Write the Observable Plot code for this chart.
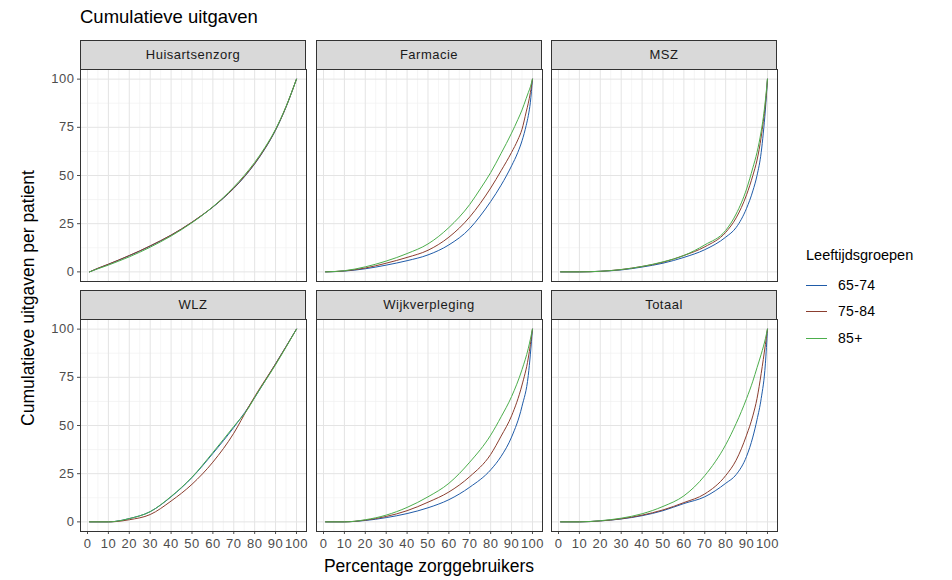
<!DOCTYPE html>
<html><head><meta charset="utf-8">
<script src="https://cdn.jsdelivr.net/npm/d3@7"></script>
<script src="https://cdn.jsdelivr.net/npm/@observablehq/plot@0.6"></script>
<style>
body{margin:0;background:#fff;font-family:"Liberation Sans",Arial,sans-serif;}
#chart{position:relative;width:952px;height:580px;overflow:hidden;}
.abs{position:absolute;}
.strip{position:absolute;background:#d9d9d9;border:1px solid #333;box-sizing:border-box;text-align:center;font-size:13px;letter-spacing:0.5px;color:#1a1a1a;line-height:27px;}
svg text{letter-spacing:0.5px;}
</style></head>
<body><div id="chart"></div>
<script>
// ---- data ----
const groups = ["65-74", "75-84", "85+"];
const colors = ["#1f5ba8", "#8b3e2f", "#4cae4c"];
const panels = ["Huisartsenzorg", "Farmacie", "MSZ", "WLZ", "Wijkverpleging", "Totaal"];
const xTicks = [0, 10, 20, 30, 40, 50, 60, 70, 80, 90, 100];
const xMinor = [5, 15, 25, 35, 45, 55, 65, 75, 85, 95];
const yTicks = [0, 25, 50, 75, 100];
const yMinor = [12.5, 37.5, 62.5, 87.5];

const huisX    = [1, 5, 10, 15, 20, 25, 30, 35, 40, 45, 50, 55, 60, 65, 70, 75, 80, 85, 90, 95, 100];
const huis6574 = [0, 1.8, 3.9, 6.1, 8.4, 10.8, 13.4, 16.1, 19, 22.2, 25.7, 29.5, 33.6, 38.2, 43.3, 49.2, 56, 64, 73.5, 85.5, 100];
const huis7584 = [0, 1.9, 4, 6.2, 8.5, 10.9, 13.5, 16.2, 19.1, 22.3, 25.8, 29.6, 33.7, 38.3, 43.5, 49.4, 56.2, 64.2, 73.7, 85.6, 100];
const huis85   = [0, 1.6, 3.5, 5.6, 7.8, 10.2, 12.8, 15.6, 18.6, 21.9, 25.5, 29.4, 33.8, 38.6, 44, 50, 56.8, 64.7, 74, 85.8, 100];

const farmX    = [1, 10, 20, 30, 40, 50, 60, 70, 75, 80, 85, 90, 93, 95, 97, 98, 99, 100];
const farm6574 = [0, 0.4, 1.6, 3.5, 5.8, 8.8, 14, 22.5, 29, 36.5, 45, 55, 62, 68, 76, 81, 88, 100];
const farm7584 = [0, 0.5, 2, 4.5, 7.5, 11.2, 18, 28.5, 35.5, 43.5, 52.5, 62, 68.5, 74, 83, 87.5, 93, 100];
const farm85   = [0, 0.6, 2.6, 5.6, 9.5, 14.5, 23, 35, 43, 51.5, 61.5, 72, 79, 84, 90, 93, 96, 100];

const mszX     = [1, 10, 20, 30, 40, 50, 60, 70, 80, 85, 90, 93, 95, 97, 98, 99, 100];
const msz6574  = [0, 0, 0.3, 1, 2.5, 4.5, 7.5, 11.5, 18, 23, 33, 42, 50, 62, 72, 84, 100];
const msz7584  = [0, 0, 0.3, 1.2, 2.8, 5, 8.5, 13, 20.5, 28, 40, 50, 58, 70, 78, 87, 100];
const msz85    = [0, 0, 0.3, 1.2, 2.8, 5.2, 8.5, 14, 21.5, 30, 43, 54, 62, 73, 80, 89, 100];

const wlzX     = [1, 10, 13, 20, 30, 40, 50, 60, 70, 77, 80, 90, 100];
const wlz6574  = [0, 0, 0.2, 1.7, 5.3, 13, 23, 35.5, 49, 59.5, 64.5, 82, 100];
const wlz7584  = [0, 0, 0.1, 1.1, 3.8, 10.8, 19.5, 31, 46, 59.5, 65, 82, 100];
const wlz85    = [0, 0, 0.2, 1.7, 5.3, 13.2, 23.2, 36, 49.5, 59, 64.5, 81.5, 100];

const wijkX    = [1, 10, 20, 30, 40, 50, 60, 70, 80, 85, 90, 95, 98, 100];
const wijk6574 = [0, 0, 0.7, 2.2, 4.3, 7.3, 11.5, 18, 27, 34, 44, 60, 76, 100];
const wijk7584 = [0, 0, 0.9, 2.8, 5.8, 10.2, 15.5, 23.5, 35, 44.5, 55, 71, 85, 100];
const wijk85   = [0, 0, 1.1, 3.5, 7.5, 13, 20, 31, 45, 54.5, 65, 79, 90, 100];

const totX     = [1, 10, 20, 30, 40, 50, 60, 70, 80, 85, 90, 93, 95, 97, 99, 100];
const tot6574  = [0, 0, 0.5, 1.5, 3.2, 5.8, 9.5, 13, 20, 24.5, 34, 44, 53, 64, 82, 100];
const tot7584  = [0, 0, 0.5, 1.6, 3.5, 6.2, 10, 14.5, 24, 32, 45, 55, 64, 77, 92, 100];
const tot85    = [0, 0, 0.6, 1.9, 4.2, 8, 13.5, 24, 40, 51, 64, 73, 80, 87, 95, 100];

const panelX = [huisX, farmX, mszX, wlzX, wijkX, totX];
const panelY = [
  [huis6574, huis7584, huis85],
  [farm6574, farm7584, farm85],
  [msz6574, msz7584, msz85],
  [wlz6574, wlz7584, wlz85],
  [wijk6574, wijk7584, wijk85],
  [tot6574, tot7584, tot85]
];

// ---- layout ----
const chart = document.getElementById("chart");
const colLeft = [80, 316, 551];
const stripTop = [40, 290];
const PW = 226, PH = 212, SH = 29;
const font = "'Liberation Sans', Arial, sans-serif";

function add(html, css) {
  const d = document.createElement("div");
  d.className = "abs";
  d.innerHTML = html;
  Object.assign(d.style, css);
  chart.appendChild(d);
  return d;
}

add("Cumulatieve uitgaven", {left: "80px", top: "6px", fontSize: "18.5px", color: "#000"});

panels.forEach((name, i) => {
  const r = Math.floor(i / 3), c = i % 3;
  const data = [];
  groups.forEach((g, gi) => {
    panelX[i].forEach((x, k) => data.push({x, y: panelY[i][gi][k], group: g}));
  });
  const ml = c === 0 ? 50 : 0;
  const mb = r === 1 ? 30 : 0;
  const svg = Plot.plot({
    width: PW + ml, height: PH + mb,
    marginLeft: ml, marginRight: 0, marginTop: 0, marginBottom: mb,
    style: {background: "transparent", overflow: "visible", fontFamily: font, fontSize: "13px", color: "#4d4d4d"},
    x: {domain: [-3.35, 104.8], ticks: xTicks, tickSize: 3, tickPadding: 4, label: null, axis: r === 1 ? "bottom" : null},
    y: {domain: [-5, 105], ticks: yTicks, tickSize: 3, tickPadding: 3, label: null, axis: c === 0 ? "left" : null},
    color: {domain: groups, range: colors},
    marks: [
      Plot.ruleX(xMinor, {stroke: "#f0f0f0", strokeWidth: 0.7}),
      Plot.ruleY(yMinor, {stroke: "#f0f0f0", strokeWidth: 0.7}),
      Plot.ruleX(xTicks, {stroke: "#e4e4e4", strokeWidth: 1}),
      Plot.ruleY(yTicks, {stroke: "#e4e4e4", strokeWidth: 1}),
      Plot.line(data, {x: "x", y: "y", z: "group", stroke: "group", strokeWidth: 1, curve: "monotone-x"}),
      Plot.frame({stroke: "#333", strokeWidth: 1})
    ]
  });
  svg.style.position = "absolute";
  svg.style.left = (colLeft[c] - ml) + "px";
  svg.style.top = (stripTop[r] + SH) + "px";
  chart.appendChild(svg);
  const s = document.createElement("div");
  s.className = "strip";
  s.textContent = name;
  Object.assign(s.style, {left: colLeft[c] + "px", top: stripTop[r] + "px", width: PW + "px", height: (SH + 1) + "px"});
  chart.appendChild(s);
});

// axis titles
add("Percentage zorggebruikers", {left: "229px", width: "400px", top: "556px", textAlign: "center", fontSize: "17.5px", color: "#000", whiteSpace: "nowrap"});
add("Cumulatieve uitgaven per patient", {left: "28px", top: "298px", fontSize: "17.5px", color: "#000", whiteSpace: "nowrap", transform: "translate(-50%,-50%) rotate(-90deg)"});

// legend
add("Leeftijdsgroepen", {left: "806px", top: "247px", fontSize: "14.5px", color: "#000"});
groups.forEach((g, gi) => {
  const y = 285 + gi * 26.5;
  add("", {left: "806px", top: (y - 0.5) + "px", width: "21px", height: "1px", background: colors[gi]});
  add(g, {left: "838px", top: (y - 8.5) + "px", fontSize: "14px", letterSpacing: "0.3px", color: "#000"});
});
</script>
</body></html>
